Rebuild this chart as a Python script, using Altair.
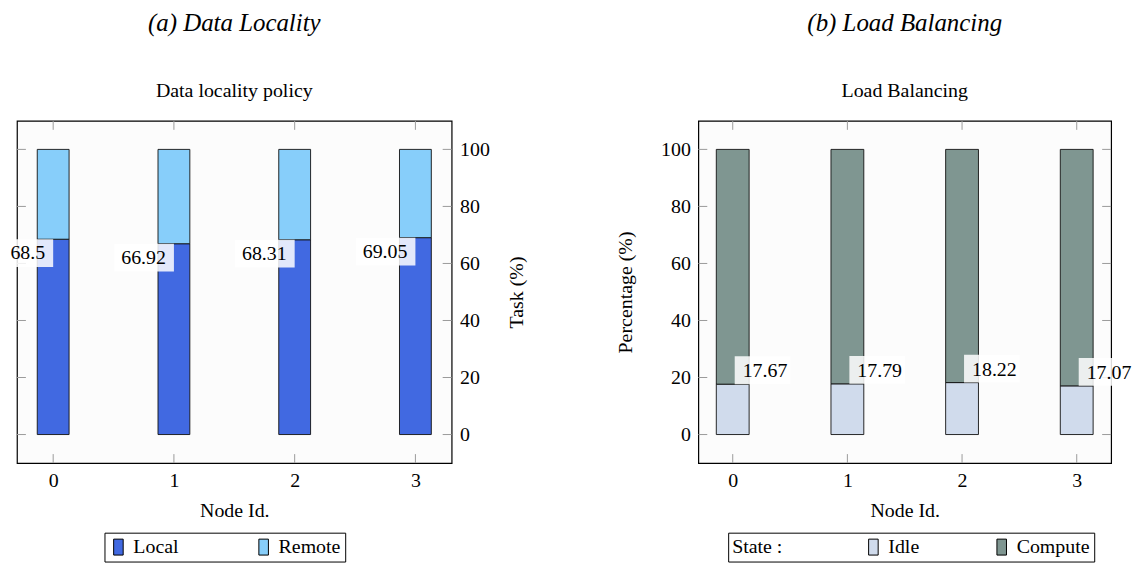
import altair as alt
import pandas as pd

# ---- data ----
nodes = [0, 1, 2, 3]
local = [68.5, 66.92, 68.31, 69.05]
remote = [31.5, 33.08, 31.69, 30.95]
idle = [17.67, 17.79, 18.22, 17.07]
compute = [82.33, 82.21, 81.78, 82.93]
y_ticks = [0, 20, 40, 60, 80, 100]

FONT = "Liberation Serif"
FS = 20
W1, W2, H = 437, 415, 344
TICK = "#9a9a9a"
TL = 9

df_a = pd.DataFrame({"node": nodes * 2, "series": ["Local"] * 4 + ["Remote"] * 4,
                     "value": local + remote, "ord": [0] * 4 + [1] * 4})
df_b = pd.DataFrame({"node": nodes * 2, "series": ["Idle"] * 4 + ["Compute"] * 4,
                     "value": idle + compute, "ord": [0] * 4 + [1] * 4})
lab_a = pd.DataFrame({"node": nodes, "value": local, "label": [str(v) for v in local]})
lab_b = pd.DataFrame({"node": nodes, "value": idle, "label": [str(v) for v in idle]})
ytk = pd.DataFrame({"value": y_ticks})
xtk = pd.DataFrame({"node": nodes})

xscale = alt.Scale(domain=[-0.3, 3.3], nice=False, zero=False, padding=0)
yscale = alt.Scale(domain=[-10, 110], nice=False, zero=False, padding=0)

LEG_PATH = "M-1,-1.67H1V1.67H-1Z"


def panel(df, lab, W, colors, domain, ytitle, yorient, ytpad, legend_x, legend_title,
          title, subtitle, side, barsize, colpad, box4w, box5w):
    xax = alt.Axis(values=nodes, format="d", title="Node Id.", ticks=False, domain=False,
                   grid=False, labelPadding=8, titlePadding=10)
    yax = alt.Axis(values=y_ticks, title=ytitle, orient=yorient, ticks=False, domain=False,
                   grid=False, labelPadding=8, titlePadding=ytpad,
                   titleAngle=270)
    leg = dict(orient="none", legendX=legend_x, legendY=414, direction="horizontal",
               symbolType=LEG_PATH, symbolSize=92, symbolStrokeColor="black",
               symbolStrokeWidth=1, strokeColor="black", padding=4,
               columnPadding=colpad, labelFont=FONT, labelFontSize=FS, labelOffset=5,
               labelColor="black")
    if legend_title:
        leg.update(title=legend_title, titleOrient="left", titlePadding=81,
                   titleFont=FONT, titleFontSize=FS, titleFontWeight="normal",
                   titleColor="black")
    else:
        leg.update(title=None)
    bars = alt.Chart(df).mark_bar(size=barsize, stroke="#111", strokeWidth=0.9).encode(
        x=alt.X("node:Q", scale=xscale, axis=xax),
        y=alt.Y("value:Q", stack="zero", scale=yscale, axis=yax),
        color=alt.Color("series:N", scale=alt.Scale(domain=domain, range=colors),
                        legend=alt.Legend(**leg)),
        order=alt.Order("ord:Q"),
    )
    if side == "left":
        box4 = alt.Chart(lab).transform_filter("length(datum.label) <= 4").mark_rect(
            width=box4w, height=28, xOffset=-box4w / 2, yOffset=14, color="white",
            opacity=0.85
        ).encode(x="node:Q", y="value:Q")
        box5 = alt.Chart(lab).transform_filter("length(datum.label) > 4").mark_rect(
            width=box5w, height=28, xOffset=-box5w / 2, yOffset=14, color="white",
            opacity=0.85
        ).encode(x="node:Q", y="value:Q")
        txt = alt.Chart(lab).mark_text(align="right", baseline="top", dx=-8, dy=4,
                                       font=FONT, fontSize=FS, color="black").encode(
            x="node:Q", y="value:Q", text="label:N")
    else:
        box4 = alt.Chart(lab).transform_filter("length(datum.label) <= 4").mark_rect(
            width=box4w, height=28, xOffset=2 + box4w / 2, yOffset=-14, color="white",
            opacity=0.85
        ).encode(x="node:Q", y="value:Q")
        box5 = alt.Chart(lab).transform_filter("length(datum.label) > 4").mark_rect(
            width=box5w, height=28, xOffset=2 + box5w / 2, yOffset=-14, color="white",
            opacity=0.85
        ).encode(x="node:Q", y="value:Q")
        txt = alt.Chart(lab).mark_text(align="left", baseline="alphabetic", dx=10, dy=-7,
                                       font=FONT, fontSize=FS, color="black").encode(
            x="node:Q", y="value:Q", text="label:N")
    tl = alt.Chart(ytk).mark_rule(color=TICK, strokeWidth=1).encode(
        y="value:Q", x=alt.value(0), x2=alt.value(TL))
    tr = alt.Chart(ytk).mark_rule(color=TICK, strokeWidth=1).encode(
        y="value:Q", x=alt.value(W - TL), x2=alt.value(W))
    tb = alt.Chart(xtk).mark_rule(color=TICK, strokeWidth=1).encode(
        x="node:Q", y=alt.value(H), y2=alt.value(H - TL))
    tt = alt.Chart(xtk).mark_rule(color=TICK, strokeWidth=1).encode(
        x="node:Q", y=alt.value(0), y2=alt.value(TL))
    return alt.layer(tl, tr, tb, tt, bars, box4, box5, txt).properties(
        width=W, height=H,
        title=alt.TitleParams(text=title, subtitle=subtitle, font=FONT, fontSize=25,
                              fontStyle="italic", fontWeight="normal", color="black",
                              subtitleFont=FONT, subtitleFontSize=FS,
                              subtitleColor="black", subtitlePadding=45,
                              anchor="middle", offset=20))


a = panel(df_a, lab_a, W1, ["#4169E1", "#87CEFA"], ["Local", "Remote"], "Task (%)",
          "right", 37, 88, None, "(a) Data Locality", "Data locality policy", "left",
          32, 75, 47, 60)
b = panel(df_b, lab_b, W2, ["#D0DBEC", "#7F9691"], ["Idle", "Compute"], "Percentage (%)",
          "left", 25, 30, "State :", "(b) Load Balancing", "Load Balancing", "right",
          33, 72, 47, 56)

chart = alt.hconcat(a, b, spacing=88).resolve_scale(color="independent").resolve_legend(
    color="independent"
).properties(padding={"left": -3, "top": 0, "right": -2, "bottom": 0}).configure_view(
    stroke="black", strokeWidth=1.2, fill="#fcfcfc"
).configure_axis(
    labelFont=FONT, labelFontSize=FS, labelColor="black",
    titleFont=FONT, titleFontSize=FS, titleFontWeight="normal", titleColor="black"
).configure_legend(
    labelFont=FONT, labelFontSize=FS, labelColor="black",
    titleFont=FONT, titleFontSize=FS, titleFontWeight="normal", titleColor="black"
)

chart.save("out.html", embed_options={"renderer": "svg", "actions": False})
